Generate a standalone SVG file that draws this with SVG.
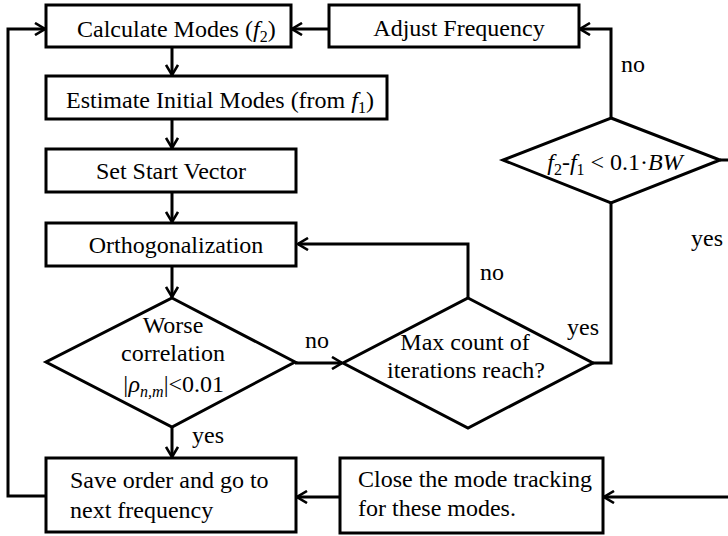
<svg xmlns="http://www.w3.org/2000/svg" width="728" height="536" viewBox="0 0 728 536">
<style>
.box{fill:#fff;stroke:#000;stroke-width:3}
.ln{fill:none;stroke:#000;stroke-width:3}
.arr{marker-end:url(#ah)}
text{font-family:"Liberation Serif","Times New Roman",serif;font-size:24px;fill:#000}
.c{text-anchor:middle}
.i{font-style:italic}
.sub{font-size:16px}
</style>
<defs>
<marker id="ah" viewBox="0 0 12 14" refX="11" refY="7" markerWidth="12" markerHeight="14" markerUnits="userSpaceOnUse" orient="auto">
<path d="M1,1 L11,7 L1,13" fill="none" stroke="#000" stroke-width="2.6"/>
</marker>
</defs>
<rect width="728" height="536" fill="#fff"/>
<g id="connectors">
<path class="ln arr" d="M172,47 V75"/>
<path class="ln arr" d="M172,119 V148"/>
<path class="ln arr" d="M172,192 V222"/>
<path class="ln arr" d="M172,266 V297"/>
<path class="ln arr" d="M172,427 V457"/>
<path class="ln arr" d="M295,363 H342"/>
<path class="ln arr" d="M468,298 V244 H298"/>
<path class="ln" d="M593,363 H611 V203"/>
<path class="ln arr" d="M611,118 V29 H580"/>
<path class="ln arr" d="M329,29 H292"/>
<path class="ln" d="M720,160 H728"/>
<path class="ln arr" d="M728,497 H604"/>
<path class="ln arr" d="M340,497 H297"/>
<path class="ln arr" d="M46,496 H8 V29 H45"/>
<text x="192" y="443">yes</text>
<text x="305" y="348">no</text>
<text x="480" y="280">no</text>
<text x="567" y="335">yes</text>
<text x="621" y="72">no</text>
<text x="691" y="246">yes</text>
</g>
<g id="calc">
<rect class="box" x="46" y="5" width="245" height="42"/>
<text x="77" y="37">Calculate Modes (<tspan class="i">f</tspan><tspan class="sub" dy="5">2</tspan><tspan dy="-5">)</tspan></text>
</g>
<g id="adjust">
<rect class="box" x="329" y="5" width="250" height="42"/>
<text class="c" x="459" y="36">Adjust Frequency</text>
</g>
<g id="estimate">
<rect class="box" x="46" y="76" width="341" height="43"/>
<text x="66" y="108">Estimate Initial Modes (from <tspan class="i">f</tspan><tspan class="sub" dy="5">1</tspan><tspan dy="-5">)</tspan></text>
</g>
<g id="setstart">
<rect class="box" x="46" y="149" width="250" height="43"/>
<text class="c" x="171" y="179">Set Start Vector</text>
</g>
<g id="ortho">
<rect class="box" x="46" y="223" width="250" height="43"/>
<text class="c" x="176" y="253">Orthogonalization</text>
</g>
<g id="worse">
<path class="box" d="M172,298 L295,362 L172,427 L46,362 Z"/>
<text class="c" x="173" y="333">Worse</text>
<text class="c" x="173" y="361">correlation</text>
<text class="c" x="173" y="392"><tspan class="i">|ρ</tspan><tspan class="sub i" dy="5">n,m</tspan><tspan dy="-5">|&lt;0.01</tspan></text>
</g>
<g id="maxcount">
<path class="box" d="M468,298 L593,363 L468,428 L343,363 Z"/>
<text class="c" x="465" y="350">Max count of</text>
<text class="c" x="466" y="378">iterations reach?</text>
</g>
<g id="freqcheck">
<path class="box" d="M611,118 L720,160 L611,203 L503,160 Z"/>
<text class="c" x="615" y="170"><tspan class="i">f</tspan><tspan class="sub" dy="5">2</tspan><tspan dy="-5">-</tspan><tspan class="i">f</tspan><tspan class="sub" dy="5">1</tspan><tspan dy="-5"> &lt; 0.1·</tspan><tspan class="i">BW</tspan></text>
</g>
<g id="save">
<rect class="box" x="46" y="458" width="250" height="74"/>
<text x="70" y="488">Save order and go to</text>
<text x="70" y="518">next frequency</text>
</g>
<g id="close">
<rect class="box" x="340" y="458" width="263" height="75"/>
<text x="358" y="487">Close the mode tracking</text>
<text x="358" y="516">for these modes.</text>
</g>
</svg>
